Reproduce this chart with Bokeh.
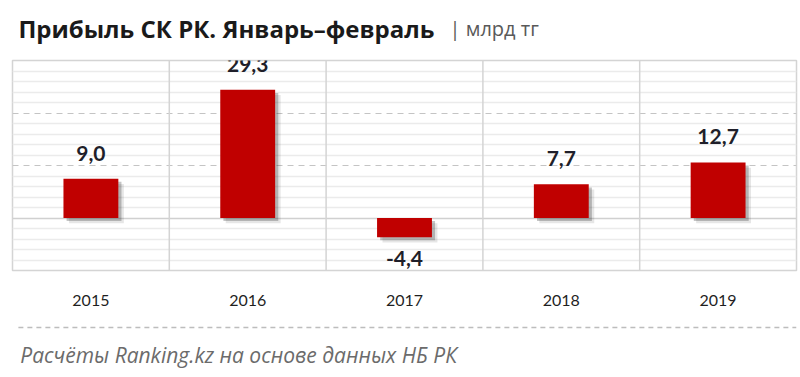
import numpy as np
from bokeh.plotting import figure
from bokeh.models import (ColumnDataSource, FactorRange, Range1d, Grid, FixedTicker,
                          Span, LabelSet)
from bokeh.layouts import column
from bokeh.core.properties import value
from bokeh.embed import file_html
from bokeh.resources import INLINE

# ---- data ----
years = ["2015", "2016", "2017", "2018", "2019"]
profit = [9.0, 29.3, -4.4, 7.7, 12.7]
title_text = "Прибыль СК РК. Январь–февраль"
unit_text = "| млрд тг"
source_text = "Расчёты Ranking.kz на основе данных НБ РК"

FONT = "Lato"
W = 800

# ---- header ----
hdr = figure(width=W, height=50, x_range=Range1d(0, W), y_range=Range1d(50, 0),
             output_backend="svg", toolbar_location=None, min_border=0)
hdr.axis.visible = False
hdr.grid.visible = False
hdr.outline_line_color = None
hdr.text(x=[6], y=[28], text=[title_text], text_font=value("Open Sans"), text_font_style="bold",
         text_font_size="24px", text_color="#1a1a1a", text_baseline="alphabetic")
hdr.text(x=[446], y=[28], text=[unit_text], text_font=value("Open Sans"),
         text_font_size="20px", text_color="#595959", text_baseline="alphabetic")

# ---- main chart ----
p = figure(width=W, height=270, x_range=FactorRange(*years, range_padding=0),
           y_range=Range1d(-12, 36), output_backend="svg", toolbar_location=None,
           min_border_left=12, min_border_right=4, min_border_top=10, min_border_bottom=50)
p.yaxis.visible = False
p.grid.visible = False
p.outline_line_color = "#d4d4d4"
p.outline_line_width = 1.5

minor = [t for t in np.round(np.arange(-12, 36.01, 2.4), 2) if t % 12 != 0]
g_minor = Grid(dimension=1, ticker=FixedTicker(ticks=[], minor_ticks=minor),
               grid_line_color=None, minor_grid_line_color="#ebebeb", minor_grid_line_width=1.5)
g_dash = Grid(dimension=1, ticker=FixedTicker(ticks=[12, 24]),
              grid_line_color="#c4c4c4", grid_line_dash="6 5", grid_line_width=1.2)
g_zero = Grid(dimension=1, ticker=FixedTicker(ticks=[0]),
              grid_line_color="#d0d0d0", grid_line_width=1.5)
for g in (g_minor, g_dash, g_zero):
    p.add_layout(g)
for i in range(1, len(years)):
    p.add_layout(Span(location=i, dimension="height", line_color="#d4d4d4", line_width=1.5))

# soft drop shadow (offset down-right), then the bars
idx = np.arange(len(years)) + 0.5
shadow = ColumnDataSource(dict(
    x1=idx + 0.02, x2=idx + 0.035,
    t1=[max(v, 0) - 0.7 for v in profit], b1=[min(v, 0) - 0.7 for v in profit],
    t2=[max(v, 0) - 1.2 for v in profit], b2=[min(v, 0) - 1.2 for v in profit]))
p.vbar(x="x2", top="t2", bottom="b2", width=0.35, source=shadow,
       fill_color="#303030", fill_alpha=0.12, line_color=None)
p.vbar(x="x1", top="t1", bottom="b1", width=0.35, source=shadow,
       fill_color="#303030", fill_alpha=0.28, line_color=None)

bars = ColumnDataSource(dict(year=years, v=profit, zero=[0] * len(years)))
p.vbar(x="year", top="v", bottom="zero", width=0.35, source=bars,
       fill_color="#C00000", line_color=None)

pos = ColumnDataSource(dict(year=[y for y, v in zip(years, profit) if v >= 0],
                            v=[v for v in profit if v >= 0],
                            t=[f"{v:.1f}".replace(".", ",") for v in profit if v >= 0]))
neg = ColumnDataSource(dict(year=[y for y, v in zip(years, profit) if v < 0],
                            v=[v for v in profit if v < 0],
                            t=[f"{v:.1f}".replace(".", ",") for v in profit if v < 0]))
p.add_layout(LabelSet(x="year", y="v", text="t", source=pos, y_offset=18, text_align="center",
                      text_baseline="alphabetic", text_font=value(FONT), text_font_style="bold",
                      text_font_size="21px", text_color="#1f1f2a"))
p.add_layout(LabelSet(x="year", y="v", text="t", source=neg, y_offset=-14, text_align="center",
                      text_baseline="top", text_font=value(FONT), text_font_style="bold",
                      text_font_size="21px", text_color="#1f1f2a"))

p.xaxis.axis_line_color = None
p.xaxis.major_tick_line_color = None
p.xaxis.minor_tick_line_color = None
p.xaxis.major_label_standoff = 18
p.xaxis.major_label_text_font = FONT
p.xaxis.major_label_text_font_size = "16px"
p.xaxis.major_label_text_color = "#1f1f1f"

# ---- footer ----
ftr = figure(width=W, height=57, x_range=Range1d(0, W), y_range=Range1d(57, 0),
             output_backend="svg", toolbar_location=None, min_border=0)
ftr.axis.visible = False
ftr.grid.visible = False
ftr.outline_line_color = None
ftr.segment(x0=[6], y0=[7], x1=[W], y1=[7], line_color="#bdbdbd", line_width=1.5, line_dash="5 4")
ftr.text(x=[8], y=[34], text=[source_text], text_font=value("Open Sans"), text_font_style="italic",
         text_font_size="21px", text_color="#6b6b6b", text_baseline="middle")

layout = column(hdr, p, ftr, spacing=0)
open("out.html", "w").write(file_html(layout, INLINE))
